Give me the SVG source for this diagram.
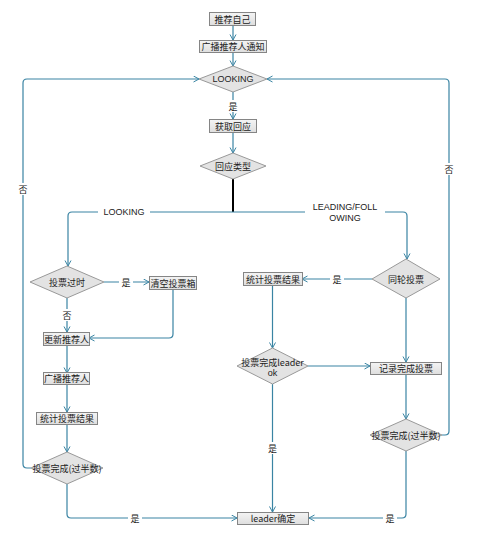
<svg xmlns="http://www.w3.org/2000/svg" width="487" height="553" viewBox="0 0 487 553">
<style>
.box{fill:url(#g);stroke:#858585;stroke-width:1}
.dia{fill:#e3e3e3;stroke:#999;stroke-width:1}
.t{font-family:"Noto Sans CJK SC","Liberation Sans",sans-serif;font-size:9px;fill:#222;text-anchor:middle;dominant-baseline:central}
.e{font-family:"Liberation Sans","Noto Sans CJK SC",sans-serif;font-size:9px;fill:#222;text-anchor:middle;dominant-baseline:central}
.c{fill:none;stroke:#3a84a3;stroke-width:1.2;marker-end:url(#a)}
.n{fill:none;stroke:#3a84a3;stroke-width:1.2}
.lb{fill:#fff;stroke:none}
</style>
<defs>
<linearGradient id="g" x1="0" y1="0" x2="0" y2="1"><stop offset="0" stop-color="#f4f4f4"/><stop offset="1" stop-color="#dedede"/></linearGradient>
<marker id="a" markerWidth="8" markerHeight="8" refX="6" refY="3.5" orient="auto" markerUnits="userSpaceOnUse"><path d="M0.5,0.5 L6,3.5 L0.5,6.5" fill="none" stroke="#3a84a3" stroke-width="1"/></marker>
</defs>
<rect width="487" height="553" fill="#fff"/>
<g id="connectors">
<path class="c" d="M233,25 L233,40"/>
<path class="c" d="M233,52 L233,66"/>
<path class="c" d="M233,92 L233,119"/>
<path class="c" d="M233,132 L233,153"/>
<path d="M233,179 L233,212" stroke="#000" stroke-width="2" fill="none"/>
<path class="c" d="M233,212 L72,212 Q68,212 68,216 L68,266"/>
<path class="c" d="M233,212 L403,212 Q407,212 407,216 L407,259"/>
<path class="c" d="M104,282 L149,282"/>
<path class="c" d="M67,298 L67,332"/>
<path class="c" d="M173,289 L173,334 Q173,338 169,338 L89,338"/>
<path class="c" d="M67,345 L67,373"/>
<path class="c" d="M67,384 L67,412"/>
<path class="c" d="M67,424 L67,452"/>
<path class="c" d="M31,468 L27,468 Q23,468 23,464 L23,83 Q23,79 27,79 L199,79"/>
<path class="c" d="M67,484 L67,514 Q67,518 71,518 L237,518"/>
<path class="c" d="M372,279 L302,279"/>
<path class="c" d="M272.5,286 L272.5,348"/>
<path class="c" d="M406,298 L406,362" stroke-width="1.6"/>
<path class="c" d="M308,366 L370,366"/>
<path class="c" d="M272.5,384 L272.5,512"/>
<path class="c" d="M406,374 L406,419"/>
<path class="c" d="M442,435 L445,435 Q449,435 449,431 L449,83 Q449,79 445,79 L267,79"/>
<path class="c" d="M406,451 L406,514 Q406,518 402,518 L309,518"/>
<rect class="lb" x="226" y="100" width="14" height="12"/><text class="t" x="233" y="106">是</text>
<rect class="lb" x="98" y="206" width="52" height="12"/><text class="e" x="124" y="212">LOOKING</text>
<rect class="lb" x="305" y="202" width="80" height="22"/><text class="e" x="345" y="207">LEADING/FOLL</text><text class="e" x="345" y="218">OWING</text>
<rect class="lb" x="119" y="276" width="14" height="12"/><text class="t" x="126" y="282">是</text>
<rect class="lb" x="60" y="309" width="14" height="12"/><text class="t" x="67" y="315">否</text>
<rect class="lb" x="16" y="183" width="14" height="12"/><text class="t" x="23" y="189">否</text>
<rect class="lb" x="442" y="163" width="14" height="12"/><text class="t" x="449" y="169">否</text>
<rect class="lb" x="128" y="512" width="14" height="12"/><text class="t" x="135" y="518">是</text>
<rect class="lb" x="330" y="273" width="14" height="12"/><text class="t" x="337" y="279">是</text>
<rect class="lb" x="265.5" y="442" width="14" height="12"/><text class="t" x="272.5" y="448">是</text>
<rect class="lb" x="383" y="512" width="14" height="12"/><text class="t" x="390" y="518">是</text>
</g>
<g id="n1"><rect class="box" x="209.5" y="12.5" width="46" height="13"/><text class="t" x="232.5" y="19">推荐自己</text></g>
<g id="n2"><rect class="box" x="199.5" y="40.5" width="67" height="12"/><text class="t" x="233" y="46.5">广播推荐人通知</text></g>
<g id="n3"><polygon class="dia" points="233,66 267,79 233,92 199,79"/><text class="e" x="233" y="79">LOOKING</text></g>
<g id="n4"><rect class="box" x="209.5" y="119.5" width="47" height="13"/><text class="t" x="233" y="126">获取回应</text></g>
<g id="n5"><polygon class="dia" points="233,153 266,166 233,179 200,166"/><text class="t" x="233" y="166">回应类型</text></g>
<g id="n6"><polygon class="dia" points="67,266 104,282 67,298 30,282"/><text class="t" x="67" y="282">投票过时</text></g>
<g id="n7"><rect class="box" x="149.5" y="276.5" width="47" height="13"/><text class="t" x="173" y="283">清空投票箱</text></g>
<g id="n8"><rect class="box" x="43.5" y="332.5" width="46" height="13"/><text class="t" x="66.5" y="339">更新推荐人</text></g>
<g id="n9"><rect class="box" x="43.5" y="372.5" width="46" height="12"/><text class="t" x="66.5" y="378.5">广播推荐人</text></g>
<g id="n10"><rect class="box" x="36.5" y="412.5" width="61" height="12"/><text class="t" x="67" y="418.5">统计投票结果</text></g>
<g id="n11"><polygon class="dia" points="67,452 103,468 67,484 31,468"/><text class="t" x="67" y="468">投票完成(过半数)</text></g>
<g id="n12"><polygon class="dia" points="406,259 440,279 406,298 372,279"/><text class="t" x="406" y="279">同轮投票</text></g>
<g id="n13"><rect class="box" x="243.5" y="272.5" width="59" height="13"/><text class="t" x="273" y="279">统计投票结果</text></g>
<g id="n14"><polygon class="dia" points="272.5,348 308,366 272.5,384 237,366"/><text class="t" x="272.5" y="362">投票完成leader</text><text class="e" x="272.5" y="373">ok</text></g>
<g id="n15"><rect class="box" x="370.5" y="362.5" width="71" height="12"/><text class="t" x="406" y="368.5">记录完成投票</text></g>
<g id="n16"><polygon class="dia" points="406,419 442,435 406,451 370,435"/><text class="t" x="406" y="435">投票完成(过半数)</text></g>
<g id="n17"><rect class="box" x="237.5" y="512.5" width="71" height="12"/><text class="t" x="273" y="518.5">leader确定</text></g>
</svg>
